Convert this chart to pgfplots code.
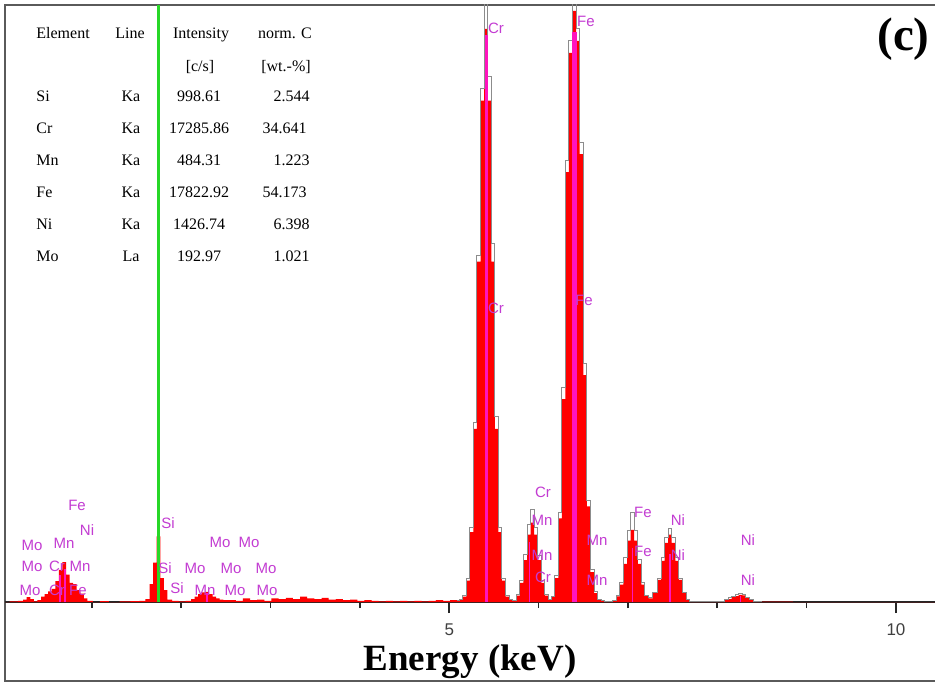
\documentclass[border=0pt]{standalone}
\usepackage{fontspec}
\setmainfont{Liberation Serif}
\newfontfamily\lsans{Liberation Sans}
\usepackage{pgfplots}
\pgfplotsset{compat=1.18}
\usepackage{pgfplotstable}
\definecolor{framec}{RGB}{90,90,90}
\definecolor{elem}{RGB}{195,60,210}
\definecolor{mk}{RGB}{255,20,190}
\definecolor{grn}{RGB}{40,215,40}
\definecolor{spec}{RGB}{255,0,0}
\tikzset{lbl/.style={font=\lsans\fontsize{7.5}{8.5}\selectfont, text=elem, inner sep=0pt, anchor=center}}

\pgfplotstableread{
x y
0.03 0
0.13 0.1
0.21 0.2
0.25 0.4
0.29 0.8
0.33 0.5
0.37 0.1
0.41 0.3
0.45 0.9
0.49 1.3
0.53 1.8
0.57 2.2
0.61 3.5
0.65 5.4
0.69 6.7
0.73 4.6
0.77 3.2
0.81 3.0
0.85 2.0
0.89 1.4
0.93 0.6
0.97 0.2
1.05 0.0
1.13 0.15
1.25 0.0
1.37 0.1
1.49 0.15
1.57 0.2
1.625 0.5
1.665 3.0
1.705 6.6
1.745 11.0
1.785 4.0
1.825 2.0
1.865 0.4
1.93 0.2
2.01 0.1
2.09 0.2
2.13 0.5
2.17 0.9
2.21 1.3
2.25 1.6
2.29 1.7
2.33 1.3
2.37 0.9
2.41 0.6
2.45 0.4
2.49 0.3
2.57 0.3
2.65 0.2
2.73 0.6
2.81 0.3
2.89 0.4
2.97 0.2
3.05 0.6
3.13 0.5
3.21 0.7
3.29 0.5
3.37 0.9
3.45 0.6
3.53 0.5
3.61 0.7
3.69 0.4
3.77 0.5
3.85 0.3
3.93 0.4
4.01 0.2
4.09 0.3
4.17 0.2
4.25 0.1
4.33 0.2
4.41 0.1
4.49 0.2
4.57 0.1
4.65 0.2
4.73 0.1
4.81 0.2
4.89 0.3
4.97 0.2
5.05 0.3
5.09 0.3
5.13 0.3
5.17 0.9
5.21 3.6
5.25 11.7
5.29 29
5.33 57
5.37 84
5.41 96
5.45 84
5.49 57
5.53 29
5.57 11.7
5.61 3.6
5.65 0.9
5.69 0.3
5.73 0.25
5.77 1.05
5.81 3.2
5.85 7.0
5.89 11.3
5.93 13.3
5.97 11.3
6.01 7.0
6.05 3.2
6.09 1.05
6.13 0.3
6.16 0.8
6.20 4
6.24 14
6.28 34
6.32 72
6.36 92
6.40 99
6.44 94
6.48 75
6.52 38
6.56 16
6.60 5
6.64 1.5
6.68 0.4
6.72 0.2
6.76 0.15
6.80 0.1
6.85 0.23
6.89 0.95
6.93 2.9
6.97 6.4
7.01 10.3
7.05 12.1
7.09 10.3
7.13 6.4
7.17 2.9
7.21 1.0
7.25 0.6
7.31 1.5
7.35 3.7
7.39 6.9
7.43 9.9
7.47 11.3
7.51 9.9
7.55 6.9
7.59 3.7
7.63 1.5
7.67 0.5
7.71 0.12
7.79 0.1
7.87 0.05
7.95 0.1
8.03 0.1
8.06 0.1
8.10 0.3
8.14 0.5
8.18 0.8
8.22 1.0
8.26 1.2
8.30 1.1
8.34 0.7
8.38 0.3
8.42 0.1
8.50 0.05
8.70 0.05
9.00 0
10.44 0
}\redspec

\pgfplotstableread{
x y
5.09 0.3
5.13 0.4
5.17 1.1
5.21 4.0
5.25 12.5
5.29 30
5.33 58
5.37 86
5.41 120
5.45 88
5.49 60
5.53 31
5.57 12.5
5.61 4.0
5.65 1.1
5.69 0.4
5.73 0.3
5.77 1.2
5.81 3.6
5.85 8.0
5.89 13.0
5.93 15.5
5.97 12.5
6.01 7.8
6.05 3.6
6.09 1.2
6.13 0.4
6.16 1.0
6.20 4.5
6.24 15
6.28 36
6.32 74
6.36 94
6.40 120
6.44 96
6.48 77
6.52 40
6.56 17
6.60 5.5
6.64 1.7
6.68 0.5
6.72 0.2
6.76 0.1
6.80 0.1
6.85 0.3
6.89 1.1
6.93 3.3
6.97 7.5
7.01 12.0
7.05 15.0
7.09 12.0
7.13 7.2
7.17 3.3
7.21 1.1
7.25 0.7
7.31 1.6
7.35 4.0
7.39 7.5
7.43 10.8
7.47 12.3
7.51 10.8
7.55 7.5
7.59 4.0
7.63 1.6
7.67 0.5
7.71 0.1
7.79 0.1
7.95 0.1
8.06 0.1
8.10 0.4
8.14 0.7
8.18 1.0
8.22 1.3
8.26 1.5
8.30 1.3
8.34 0.8
8.38 0.4
8.42 0.1
8.50 0.05
}\grayspec

\begin{document}
\begin{tikzpicture}
\useasboundingbox (0,0) rectangle (467.5pt,-341.5pt);
\fill[white] (0,0) rectangle (467.5pt,-341.5pt);
% outer frame
\begin{axis}[at={(2.5pt,-2.5pt)}, anchor=north west, scale only axis,
  width=478pt, height=338pt, xmin=0, xmax=1, ymin=0, ymax=1,
  xtick=\empty, ytick=\empty,
  axis line style={framec, line width=1pt}]
\end{axis}
% spectrum
\begin{axis}[at={(2.5pt,-2.5pt)}, anchor=north west, scale only axis,
  width=465pt, height=298.5pt,
  xmin=0.027, xmax=10.437, ymin=0, ymax=100,
  axis x line=bottom, axis y line=none,
  x axis line style={-, black!85, line width=0.8pt},
  xtick={5,10}, minor xtick={1,2,3,4,6,7,8,9},
  tick align=outside, major tick length=5.5pt, minor tick length=3pt,
  tick style={black!85, line width=0.8pt},
  /pgf/number format/assume math mode=true,
  xticklabel style={font=\lsans\fontsize{8.5}{10}\selectfont, text=black!75, yshift=-2pt},
  xlabel={Energy (keV)},
  xlabel style={font=\bfseries\fontsize{18.5}{22}\selectfont,
    at={(axis description cs:0.5,0)}, anchor=base, yshift=-34pt},
  clip=true]
\addplot[const plot mark mid, fill=spec, draw=none] table {\redspec} \closedcycle;
\addplot[const plot mark mid, draw=black!45, line width=0.5pt] table {\grayspec};
\addplot[ycomb, mk, line width=1.2pt] coordinates {(5.415,95)};
\addplot[ycomb, mk, line width=2.2pt] coordinates {(6.40,95.5)};
\addplot[ycomb, mk, line width=0.8pt] coordinates {(0.64,4.5) (0.70,5.5) (2.29,1.5) (5.90,10) (7.05,9) (7.47,8) (8.26,1.0)};
\addplot[ycomb, grn, line width=1.6pt] coordinates {(1.745,100)};
% element labels
\node[lbl] at (axis cs:5.523,96.1) {Cr};
\node[lbl] at (axis cs:6.530,97.2) {Fe};
\node[lbl] at (axis cs:5.523,49.2) {Cr};
\node[lbl] at (axis cs:6.508,50.6) {Fe};
\node[lbl] at (axis cs:6.049,18.3) {Cr};
\node[lbl] at (axis cs:6.038,13.7) {Mn};
\node[lbl] at (axis cs:6.038,7.8) {Mn};
\node[lbl] at (axis cs:6.049,4.2) {Cr};
\node[lbl] at (axis cs:6.653,10.4) {Mn};
\node[lbl] at (axis cs:6.653,3.7) {Mn};
\node[lbl] at (axis cs:7.168,15.0) {Fe};
\node[lbl] at (axis cs:7.168,8.4) {Fe};
\node[lbl] at (axis cs:7.560,13.7) {Ni};
\node[lbl] at (axis cs:7.560,7.9) {Ni};
\node[lbl] at (axis cs:8.343,10.4) {Ni};
\node[lbl] at (axis cs:8.343,3.7) {Ni};
\node[lbl] at (axis cs:1.851,13.2) {Si};
\node[lbl] at (axis cs:1.818,5.7) {Si};
\node[lbl] at (axis cs:1.952,2.3) {Si};
\node[lbl] at (axis cs:0.833,16.2) {Fe};
\node[lbl] at (axis cs:0.945,12.1) {Ni};
\node[lbl] at (axis cs:0.329,9.5) {Mo};
\node[lbl] at (axis cs:0.687,9.9) {Mn};
\node[lbl] at (axis cs:0.329,5.9) {Mo};
\node[lbl] at (axis cs:0.609,5.9) {Cr};
\node[lbl] at (axis cs:0.866,5.9) {Mn};
\node[lbl] at (axis cs:0.307,2.0) {Mo};
\node[lbl] at (axis cs:0.609,2.0) {Cr};
\node[lbl] at (axis cs:0.844,2.0) {Fe};
\node[lbl] at (axis cs:2.433,9.9) {Mo};
\node[lbl] at (axis cs:2.758,9.9) {Mo};
\node[lbl] at (axis cs:2.154,5.7) {Mo};
\node[lbl] at (axis cs:2.557,5.7) {Mo};
\node[lbl] at (axis cs:2.948,5.7) {Mo};
\node[lbl] at (axis cs:2.265,2.0) {Mn};
\node[lbl] at (axis cs:2.601,2.0) {Mo};
\node[lbl] at (axis cs:2.960,2.0) {Mo};
\node[anchor=base east, inner sep=0pt, font=\bfseries\fontsize{23.5}{27}\selectfont] at (rel axis cs:0.9946,0.9246) {(c)};
\end{axis}
% result table
\begin{scope}[x=0.5pt, y=-0.5pt, every node/.style={inner sep=0pt, font=\fontsize{8}{9.6}\selectfont}]
\node[anchor=base west] at (36,39) {Element};
\node[anchor=base] at (130,39) {Line};
\node[anchor=base] at (201,39) {Intensity};
\node[anchor=base] at (285,39) {norm. C};
\node[anchor=base] at (200,72) {[c/s]};
\node[anchor=base] at (286,72) {[wt.-\%]};
\node[anchor=base west] at (36,102) {Si};
\node[anchor=base west] at (36,134) {Cr};
\node[anchor=base west] at (36,166) {Mn};
\node[anchor=base west] at (36,198) {Fe};
\node[anchor=base west] at (36,230) {Ni};
\node[anchor=base west] at (36,262) {Mo};
\node[anchor=base] at (131,102) {Ka};
\node[anchor=base] at (131,134) {Ka};
\node[anchor=base] at (131,166) {Ka};
\node[anchor=base] at (131,198) {Ka};
\node[anchor=base] at (131,230) {Ka};
\node[anchor=base] at (131,262) {La};
\node[anchor=base] at (199,102) {998.61};
\node[anchor=base] at (199,134) {17285.86};
\node[anchor=base] at (199,166) {484.31};
\node[anchor=base] at (199,198) {17822.92};
\node[anchor=base] at (199,230) {1426.74};
\node[anchor=base] at (199,262) {192.97};
\node[anchor=base east] at (310,102) {2.544};
\node[anchor=base east] at (307,134) {34.641};
\node[anchor=base east] at (310,166) {1.223};
\node[anchor=base east] at (307,198) {54.173};
\node[anchor=base east] at (310,230) {6.398};
\node[anchor=base east] at (310,262) {1.021};
\end{scope}
\end{tikzpicture}
\end{document}
